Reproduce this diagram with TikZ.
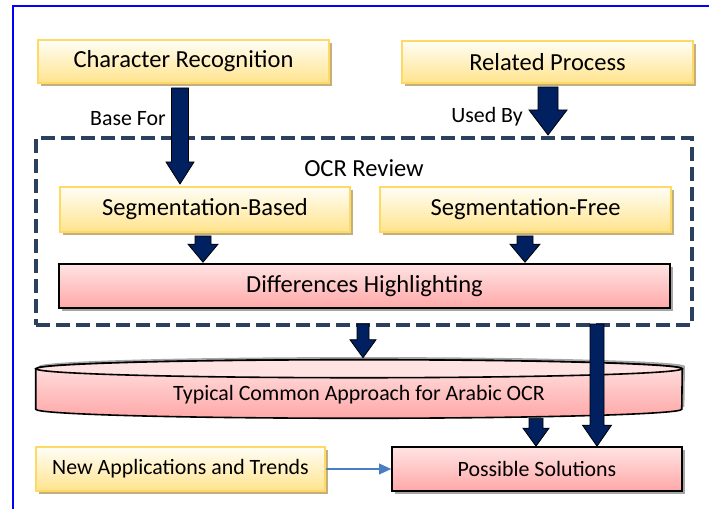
\documentclass[tikz,border=0pt]{standalone}
\usepackage{fontspec}
\setmainfont{Carlito}
\usepackage{tikz}
\usetikzlibrary{calc,shadows,arrows.meta}

\definecolor{navyarrow}{HTML}{002060}
\definecolor{ylwtop}{HTML}{FFFEF6}
\definecolor{ylwbot}{HTML}{FFE38C}
\definecolor{ylwline}{HTML}{FFD966}
\definecolor{ylwshadow}{HTML}{C4B07D}
\definecolor{pinktop}{HTML}{FFE3E3}
\definecolor{pinkbot}{HTML}{FFA8A8}
\definecolor{dashblue}{HTML}{2B3F5F}
\definecolor{linkblue}{HTML}{4A7EC4}

\begin{document}
\begin{tikzpicture}[x=0.75pt,y=0.75pt,yscale=-1,xscale=1,
    bigtext/.style={font=\fontsize{18.4}{22}\selectfont},
    smalltext/.style={font=\fontsize{16.4}{19}\selectfont},
    ybox/.style={draw=ylwline, line width=1.5pt, top color=ylwtop, bottom color=ylwbot, inner sep=0pt,
      drop shadow={shadow xshift=2.5pt, shadow yshift=-2.5pt, fill=ylwshadow, opacity=1}},
    pbox/.style={draw=black, line width=1.2pt, top color=pinktop, bottom color=pinkbot, inner sep=0pt,
      drop shadow={shadow xshift=2pt, shadow yshift=-2pt, fill=gray!70, opacity=1}},
    fatarrow/.style args={#1/#2/#3}{fill=navyarrow, draw=black, line width=0.6pt,
      to path={($(\tikztostart)+(-#1,0)$) -- ($(\tikztotarget)+(-#1,-#3)$) -- ($(\tikztotarget)+(-#2,-#3)$) -- (\tikztotarget) -- ($(\tikztotarget)+(#2,-#3)$) -- ($(\tikztotarget)+(#1,-#3)$) -- ($(\tikztostart)+(#1,0)$) -- cycle}}
  ]
\useasboundingbox (0,0) rectangle (709,509);
%Frame
\draw[blue, line width=1.5pt] (13,530) -- (13,6) -- (730,6);

%Top boxes
\node[ybox, bigtext, minimum width=218.25pt, minimum height=32.25pt] (cr) at (183.5,61.5) {Character Recognition};
\node[ybox, bigtext, minimum width=218.25pt, minimum height=31.5pt] (rp) at (547.5,62) {Related Process};
\node[smalltext] (basefor) at (128,119) {Base For};
\node[smalltext] (usedby) at (487,117) {Used By};

%Review frame
\node[draw=dashblue, line width=3pt, dash pattern=on 10.5pt off 4.5pt, minimum width=492pt, minimum height=140.25pt, inner sep=0pt] (ocr) at (364,231.5) {};
\node[bigtext] (ocrtitle) at (364,168) {OCR Review};
\node[ybox, bigtext, minimum width=217.5pt, minimum height=33.75pt] (segb) at (205,209.5) {Segmentation-Based};
\node[ybox, bigtext, minimum width=218.25pt, minimum height=33.75pt] (segf) at (525.5,209.5) {Segmentation-Free};
\node[pbox, bigtext, minimum width=458.25pt, minimum height=33pt] (diff) at (364.5,286) {Differences Highlighting};

%Cylinder
\node[minimum width=484.5pt, minimum height=43.5pt, inner sep=0pt] (typ) at (359,389) {};
\draw[black, line width=1.2pt, top color=pinktop, bottom color=pinkbot,
  drop shadow={shadow xshift=2pt, shadow yshift=2pt, fill=gray!70, opacity=1}]
  ($(typ.north west)+(0,9)$) -- ($(typ.south west)+(0,-9)$) arc[start angle=180, end angle=0, x radius=242.25pt, y radius=6.75pt]
  -- ($(typ.north east)+(0,9)$) arc[start angle=0, end angle=-180, x radius=242.25pt, y radius=6.75pt] -- cycle;
\draw[black, line width=1.2pt, fill=pinktop] ($(typ.north)+(0,9)$) ellipse[x radius=242.25pt, y radius=6.75pt];
\node[smalltext] (typlbl) at (359,395) {Typical Common Approach for Arabic OCR};

%Bottom boxes
\node[pbox, smalltext, minimum width=217.5pt, minimum height=33pt] (ps) at (537,469) {Possible Solutions};
\node[ybox, smalltext, minimum width=216.75pt, minimum height=33pt] (nat) at (180.5,469) {New Applications and Trends};

%Block arrows
\draw[fatarrow=8.5/14/22] ($(cr.south)+(-3.5,4)$) to ($(cr.south |- segb.north)+(-3.5,-2)$);
\draw[fatarrow=10/19/25] ($(rp.south)+(0.5,3)$) to ($(rp.south |- ocr.north)+(0.5,-1)$);
\draw[fatarrow=8/15/18] ($(segb.south)+(-2,3)$) to ($(segb.south |- diff.north)+(-2,-1)$);
\draw[fatarrow=8/15/18] ($(segf.south)+(-0.5,3)$) to ($(segf.south |- diff.north)+(-0.5,-1)$);
\draw[fatarrow=6/13/18] ($(ocr.south)+(-1,-3)$) to ($(ocr.south |- typ.north)+(-1,-2)$);
\coordinate (drop) at ($(ocr.south east)+(-97,-3)$);
\draw[fatarrow=7/14.5/21] (drop) to (drop |- ps.north);
\draw[fatarrow=7/13/18] ($(ps.north |- typ.south)+(-1,0)$) to ($(ps.north)+(-1,0)$);

%Link
\draw[linkblue, line width=1.2pt, -{Triangle[length=9pt,width=8pt]}] (nat.east) -- (ps.west);
\end{tikzpicture}
\end{document}
